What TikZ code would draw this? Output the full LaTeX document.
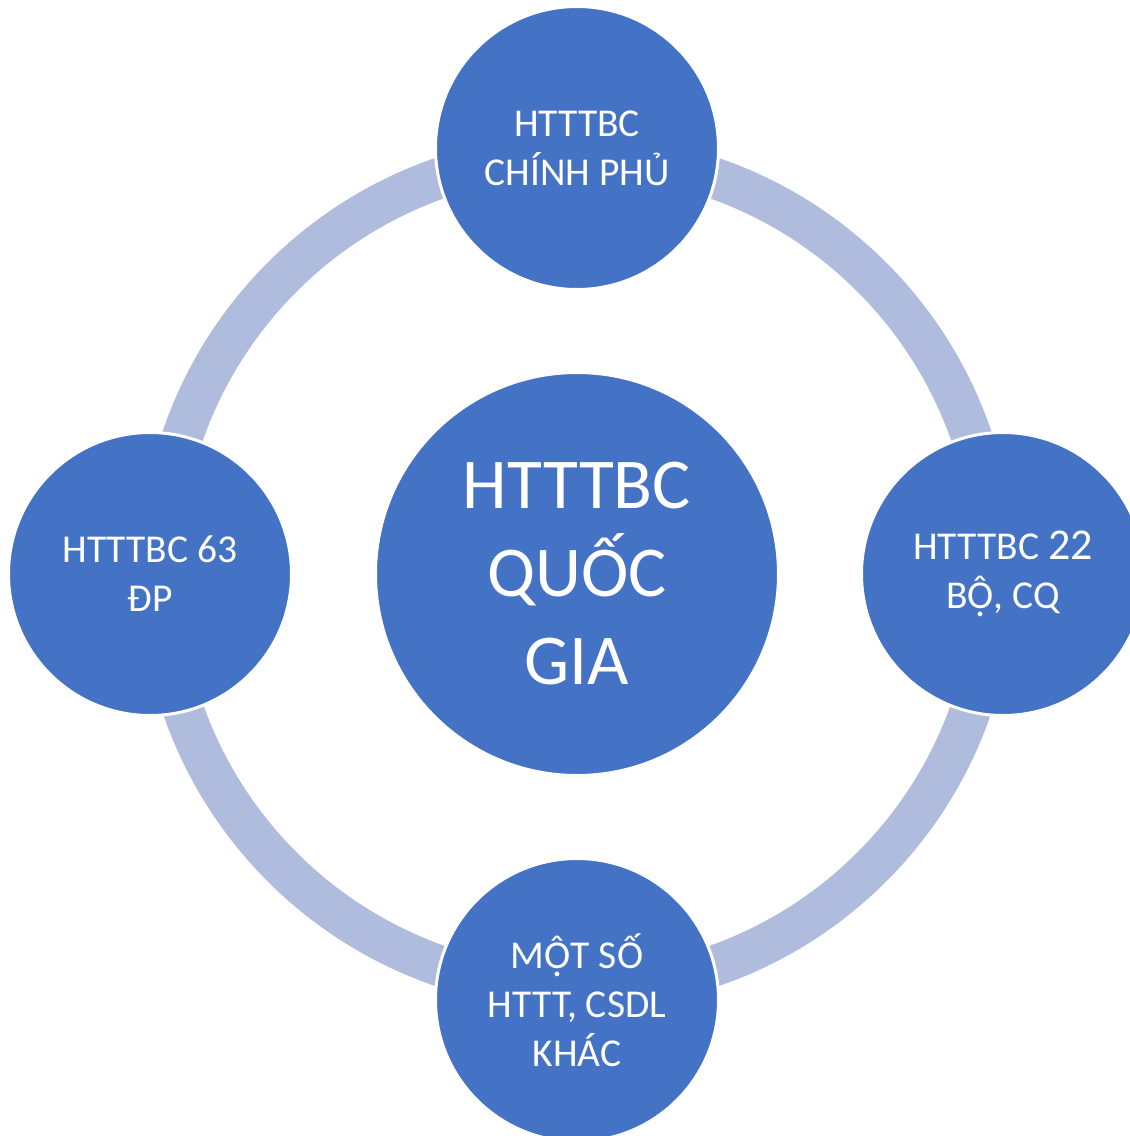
\documentclass[tikz,border=0pt]{standalone}
\usepackage{fontspec}
\setmainfont{Carlito}
\definecolor{nodeblue}{HTML}{4472C4}
\definecolor{ringblue}{HTML}{B0BCDD}
\newcommand{\OCD}{{\ooalign{\symbol{"00D4}\cr\hidewidth\raisebox{-0.21em}{.}\hidewidth\cr}}}
\begin{document}
\begin{tikzpicture}[x=1pt,y=-1pt,
  smallc/.style={circle, fill=nodeblue, draw=white, line width=3pt, minimum size=283pt, inner sep=0pt, text=white, align=center, font=\fontsize{39.5}{49}\selectfont},
  bigc/.style={circle, fill=nodeblue, draw=white, line width=3pt, minimum size=403pt, inner sep=0pt, text=white, align=center, font=\fontsize{71.5}{88}\selectfont},
  ring/.style={draw=ringblue, line width=41pt}]
\useasboundingbox (0,0) rectangle (1130,1136);
\coordinate (c) at (577,572);
\draw[ring] (c) circle[radius=417pt];
\node[bigc] (center) at (577,574) {HTTTBC\\QU\symbol{"1ED0}C\\GIA};
\node[smallc] (top) at (577,148) {HTTTBC\\CHÍNH PH\symbol{"1EE6}};
\node[smallc] (left) at (150,574) {HTTTBC 63\\\symbol{"0110}P};
\node[smallc] (right) at (1003,574) {HTTTBC {\fontsize{44}{49}\selectfont 22}\\B\OCD, CQ};
\node[smallc] (bottom) at (577,1000) {M\OCD T S\symbol{"1ED0}\\HTTT, CSDL\\KH\symbol{"00C1}C};
\end{tikzpicture}
\end{document}
